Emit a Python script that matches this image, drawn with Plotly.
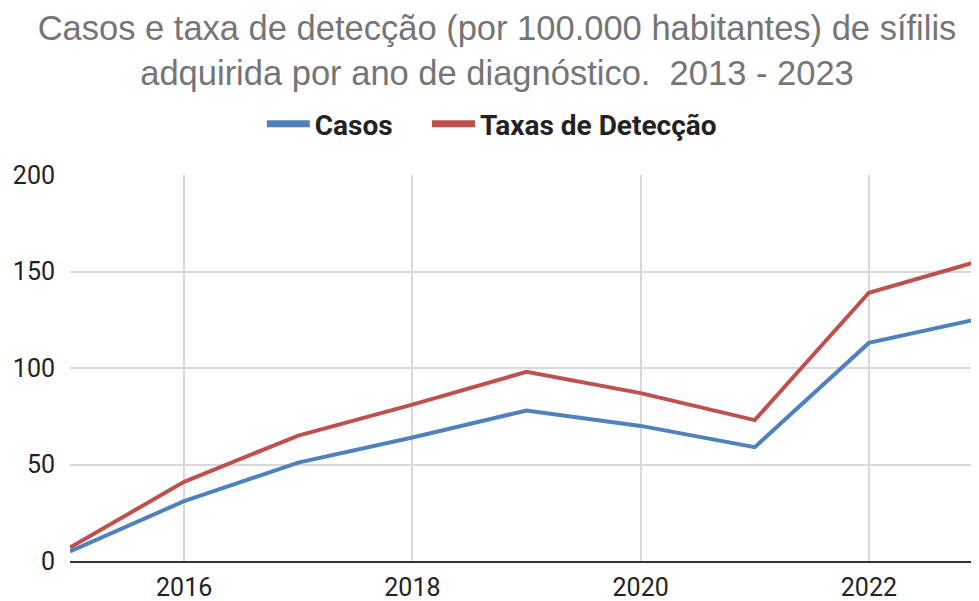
import plotly.graph_objects as go

years = [2015, 2016, 2017, 2018, 2019, 2020, 2021, 2022, 2023]
casos = [5, 31, 51, 64, 78, 70, 59, 113, 126]
taxas = [7, 41, 65, 81, 98, 87, 73, 139, 156]
x_ticks = [2016, 2018, 2020, 2022]
y_ticks = [0, 50, 100, 150, 200]
series_names = ["Casos", "Taxas de Detecção"]
series_colors = ["#4F81BD", "#C0504D"]
legend_ids = ["legend", "legend2"]

tick_font = dict(family="Roboto, Arial", size=25, color="#222222")
legend_font = dict(family="Roboto, Arial", size=28, color="#222222", weight="bold")

fig = go.Figure()
for name, vals, col in zip(series_names, [casos, taxas], series_colors):
    fig.add_trace(go.Scatter(x=years, y=vals, mode="lines", name=name, showlegend=False,
                             line=dict(color=col, width=4)))
# legend swatches
for name, col, lg in zip(series_names, series_colors, legend_ids):
    fig.add_trace(go.Scatter(x=[None], y=[None], mode="lines", name=name, legend=lg,
                             line=dict(color=col, width=7)))

fig.update_layout(
    width=971, height=593,
    margin=dict(l=62, r=0, t=167, b=40),
    paper_bgcolor="white", plot_bgcolor="white",
    title=dict(text="Casos e taxa de detecção (por 100.000 habitantes) de sífilis<br>adquirida por ano de diagnóstico.  2013 - 2023",
               x=0.5036, xref="container", xanchor="center",
               y=0.946, yref="container", yanchor="top",
               font=dict(family="Liberation Sans, Arial", size=34.5, color="#757575")),
    legend=dict(orientation="h", x=0.211, xanchor="left", y=1.132, yanchor="middle",
                font=legend_font, itemwidth=43, bgcolor="rgba(0,0,0,0)"),
    legend2=dict(orientation="h", x=0.3927, xanchor="left", y=1.132, yanchor="middle",
                 font=legend_font, itemwidth=43, bgcolor="rgba(0,0,0,0)"),
    showlegend=True,
)
fig.update_xaxes(range=[2015, 2022.965], tickvals=x_ticks, ticktext=[str(v) for v in x_ticks],
                 showgrid=True, gridcolor="#D9D9D9", gridwidth=2,
                 showline=True, linecolor="#333333", linewidth=2,
                 ticks="", tickfont=tick_font, ticklabelstandoff=3, zeroline=False,
                 automargin=False)
fig.update_yaxes(range=[0, 200], tickvals=y_ticks,
                 showgrid=True, gridcolor="#D9D9D9", gridwidth=2,
                 showline=False, zeroline=False,
                 ticks="", tickfont=tick_font, ticklabelstandoff=14, automargin=False)

fig.write_html("out.html")
